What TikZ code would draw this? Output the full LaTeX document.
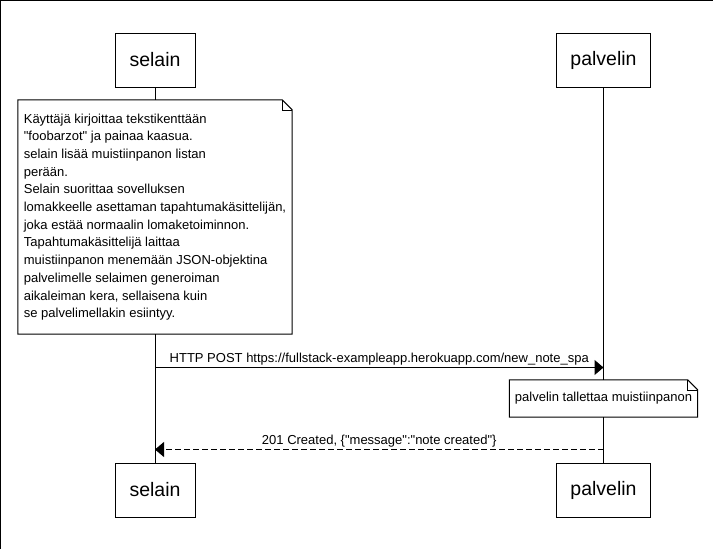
\documentclass[tikz,border=0pt]{standalone}
\usepackage{fontspec}
\setmainfont{Liberation Sans}[Ligatures=TeXOff]
\usetikzlibrary{arrows.meta, backgrounds}
\tikzset{
  osapuoli/.style={draw, fill=white, line width=1pt, minimum height=54pt, inner sep=0pt, font=\fontsize{19.5}{23}\selectfont},
  muistio/.style={fill=white, inner sep=0pt, font=\fontsize{13}{17.7}\selectfont},
  viesti/.style={line width=1pt, -{Triangle[length=9pt, width=15pt]}},
  viestiteksti/.style={above, inner sep=2pt, font=\fontsize{13}{15}\selectfont}
}

\begin{document}
\begin{tikzpicture}[x=1pt, y=-1pt]
  \useasboundingbox (0,0) rectangle (713,549);
  \draw[line width=1pt] (0.5,549) -- (0.5,0.5) -- (713,0.5);

  % osapuolet
  \node[osapuoli, minimum width=80pt] (selainA) at (155,60) {selain};
  \node[osapuoli, minimum width=94pt] (palvelinA) at (603.5,60) {palvelin};
  \node[osapuoli, minimum width=80pt] (selainB) at (155,490) {selain};
  \node[osapuoli, minimum width=94pt] (palvelinB) at (603.5,490) {palvelin};

  % muistiinpanot
  \node[muistio, minimum width=274pt, minimum height=234pt, align=left] (alku) at (155,217) {
    Käyttäjä kirjoittaa tekstikenttään\\
    "foobarzot" ja painaa kaasua.\\
    selain lisää muistiinpanon listan\\
    perään.\\
    Selain suorittaa sovelluksen\\
    lomakkeelle asettaman tapahtumakäsittelijän,\\
    joka estää normaalin lomaketoiminnon.\\
    Tapahtumakäsittelijä laittaa\\
    muistiinpanon menemään JSON-objektina\\
    palvelimelle selaimen generoiman\\
    aikaleiman kera, sellaisena kuin\\
    se palvelimellakin esiintyy.};
  \node[muistio, minimum width=188pt, minimum height=37pt] (tallennus) at (603.5,398.5) {palvelin tallettaa muistiinpanon};

  \foreach \n in {alku, tallennus} {
    \draw[line width=1pt] (\n.north west) -- ([xshift=-10pt]\n.north east) -- ([yshift=-10pt]\n.north east) -- (\n.south east) -- (\n.south west) -- cycle;
    \draw[line width=0.6pt] ([xshift=-10pt]\n.north east) -- ([xshift=-10pt, yshift=-10pt]\n.north east) -- ([yshift=-10pt]\n.north east);
  }

  % elamanlangat
  \begin{scope}[on background layer]
    \draw[line width=1pt] (selainA) -- (selainB);
    \draw[line width=1pt] (palvelinA) -- (palvelinB);
  \end{scope}

  % viestit
  \path (selainA.south) ++(0,280) coordinate (post1);
  \path (palvelinA.south) ++(0,280) coordinate (post2);
  \path (selainA.south) ++(0,362) coordinate (vast1);
  \path (palvelinA.south) ++(0,362) coordinate (vast2);

  \draw[viesti] (post1) -- node[viestiteksti] {HTTP POST https://fullstack-exampleapp.herokuapp.com/new\_note\_spa} (post2);
  \draw[viesti, dash pattern=on 6pt off 3pt] (vast2) -- node[viestiteksti] {201 Created, \{"message":"note created"\}} (vast1);
\end{tikzpicture}
\end{document}
